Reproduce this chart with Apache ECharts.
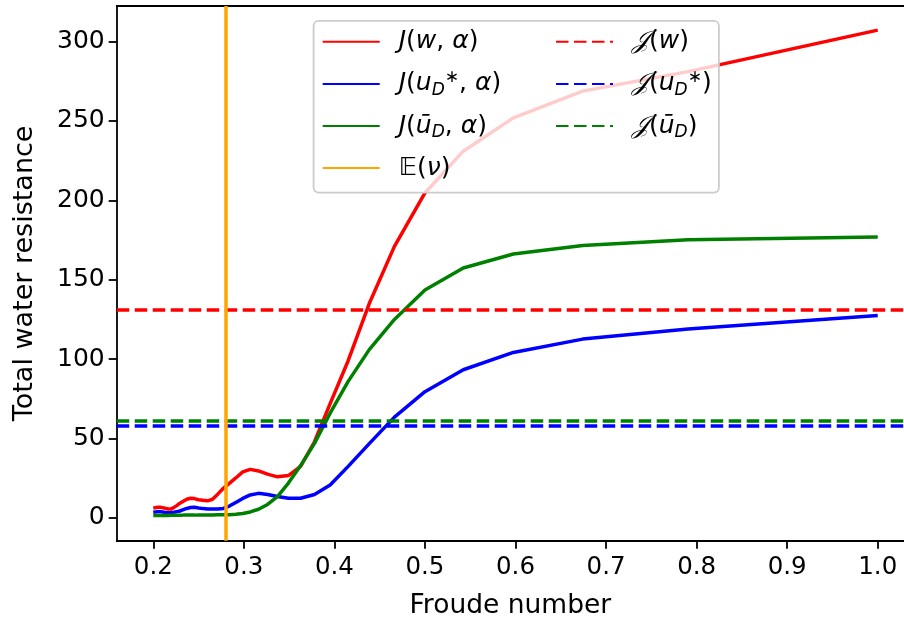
<!DOCTYPE html>
<html>
<head>
<meta charset="utf-8">
<script src="https://cdn.jsdelivr.net/npm/echarts@6/dist/echarts.min.js"></script>
<style>html,body{margin:0;padding:0;background:#fff}#c{width:904px;height:626px}</style>
</head>
<body>
<div id="c"></div>
<script>
// Froude numbers (x values)
const froude = [0.2000,0.2024,0.2050,0.2076,0.2104,0.2132,0.2162,0.2193,0.2225,0.2259,
  0.2294,0.2331,0.2370,0.2411,0.2454,0.2500,0.2548,0.2599,0.2654,0.2712,
  0.2774,0.2840,0.2911,0.2988,0.3071,0.3162,0.3262,0.3371,0.3492,0.3627,
  0.3780,0.3953,0.4152,0.4385,0.4663,0.5000,0.5423,0.5976,0.6742,0.7906,1.0000];
// J(w, alpha)
const jW = [6.2,6.5,6.7,6.7,6.5,6.1,5.7,5.6,6.5,7.8,
  9.3,10.5,11.8,12.4,12.2,11.5,11.1,10.8,11.8,15.0,
  18.7,21.8,25.2,29.0,30.6,29.6,27.6,25.9,26.7,32.5,
  48,72,99,135,171,204.6,230.9,251.9,268.7,281,307.1];
// J(u_D^*, alpha)
const jUstar = [3.6,3.8,4.0,4.0,3.8,3.5,3.3,3.3,3.6,4.0,
  4.4,5.2,6.0,6.6,6.7,6.3,5.9,5.7,5.6,5.6,
  6.0,7.5,9.8,12.3,14.5,15.5,14.8,13.5,12.4,12.4,
  14.8,20.8,32.5,46.8,63.5,79.5,93.3,104.2,112.6,118.9,127.5];
// J(u_D bar, alpha)
const jUbar = [1.5,1.5,1.5,1.6,1.6,1.6,1.6,1.7,1.7,1.7,
  1.7,1.8,1.8,1.8,1.8,1.9,1.9,1.9,1.9,2.0,
  2.0,2.1,2.3,2.8,3.8,5.5,8.5,13.5,22,33,
  47,66,86,106,125,143.5,157.4,166.2,171.6,175.2,176.9];
// horizontal reference levels and expected Froude number
const levelJw = 131.1;
const levelJustar = 57.8;
const levelJubar = 61.2;
const expectedNu = 0.2774;
// ticks
const xTicks = [0.2,0.3,0.4,0.5,0.6,0.7,0.8,0.9,1.0];
const yTicks = [0,50,100,150,200,250,300];

const RED='#ff0000', BLUE='#0000ff', GREEN='#008000', ORANGE='#ffa500';
const LW = 3.5;
const DASH = [12.5, 5.5];
const FONT = "'DejaVu Sans', 'DejaVu Serif', 'Noto Sans', sans-serif";
const X_MIN = 0.1596, X_MAX = 1.0290;

function pairs(ys){ return froude.map((x,i)=>[x, ys[i]]); }

const labels = {
  Jw:    '{sp| }{i|J}{n|(}{i|w}{n|, }{i|α}{n|)}',
  Ju:    '{sp| }{i|J}{n|(}{i|u}{sub|D}{sup|∗}{n|, }{i|α}{n|)}',
  Jb:    '{sp| }{i|J}{n|(}{i|ū}{sub|D}{n|, }{i|α}{n|)}',
  E:     '{sp| }{n|𝔼(}{i|ν}{n|)}',
  JJw:   '{sp| }{cal|𝒥}{n|(}{i|w}{n|)}',
  JJu:   '{sp| }{cal|𝒥}{n|(}{i|u}{sub|D}{sup|∗}{n|)}',
  JJb:   '{sp| }{cal|𝒥}{n|(}{i|ū}{sub|D}{n|)}'
};
const rich = {
  sp:  {width: 14, fontSize: 25, lineHeight: 30},
  n:   {fontSize: 25, fontFamily: FONT, color:'#000', lineHeight: 30},
  i:   {fontSize: 25, fontFamily: FONT, fontStyle:'italic', color:'#000', lineHeight: 30},
  cal: {fontSize: 25, fontFamily: "'DejaVu Serif', 'DejaVu Sans', serif", fontStyle:'italic', color:'#000', lineHeight: 30},
  sub: {fontSize: 17, fontFamily: FONT, fontStyle:'italic', color:'#000', lineHeight: 14, verticalAlign:'bottom'},
  sup: {fontSize: 17, fontFamily: FONT, color:'#000', lineHeight: 14, verticalAlign:'top'}
};

function curve(name, ys, color){
  return {name, type:'line', data: pairs(ys), symbol:'none', smooth:false,
    lineStyle:{color, width:LW}, itemStyle:{color}, z:3, silent:true};
}
function hline(name, val, color){
  return {name, type:'line', data: [], symbol:'none',
    lineStyle:{color, width:LW, type:DASH}, itemStyle:{color}, z:2,
    markLine:{silent:true, symbol:['none','none'], label:{show:false}, animation:false,
      lineStyle:{color, width:LW, type:DASH}, emphasis:{disabled:true},
      data:[{yAxis: val}]}};
}

const chart = echarts.init(document.getElementById('c'), null, {renderer:'canvas'});
const legendCommon = {orient:'vertical', itemWidth:57, itemHeight:14, itemGap:14.6, padding:0, z:20,
  selectedMode:false,
  itemStyle:{color:'rgba(0,0,0,0)', borderWidth:0, opacity:0},
  textStyle:{fontSize:25, color:'#000', fontFamily: FONT, rich},
  formatter: name => labels[name]};
chart.setOption({
  animation:false,
  backgroundColor:'#fff',
  grid:{left:116.7, right:0, top:6, bottom:85.3, show:false},
  xAxis:[{type:'value', min:X_MIN, max:X_MAX,
    splitLine:{show:false},
    axisLine:{show:true, onZero:false, lineStyle:{color:'#000', width:1.8}},
    axisTick:{show:true, inside:false, length:8, customValues:xTicks, lineStyle:{color:'#000', width:1.8}},
    axisLabel:{customValues:xTicks, formatter:v=>Number(v).toFixed(1), fontSize:24.5, color:'#000', margin:14, fontFamily:FONT},
    name:'Froude number', nameLocation:'middle', nameGap:52,
    nameTextStyle:{fontSize:26.5, color:'#000', fontFamily:FONT}},
   {type:'value', position:'top', min:X_MIN, max:X_MAX,
    splitLine:{show:false},
    axisLine:{show:true, onZero:false, lineStyle:{color:'#000', width:1.8}},
    axisTick:{show:false}, axisLabel:{show:false}}],
  yAxis:{type:'value', min:-14.3, max:322.3,
    splitLine:{show:false},
    axisLine:{show:true, onZero:false, lineStyle:{color:'#000', width:1.8}},
    axisTick:{show:true, inside:false, length:8, customValues:yTicks, lineStyle:{color:'#000', width:1.8}},
    axisLabel:{customValues:yTicks, fontSize:25, color:'#000', margin:12, fontFamily:FONT},
    name:'Total water resistance', nameLocation:'middle', nameGap:78,
    nameTextStyle:{fontSize:27, color:'#000', fontFamily:FONT}},
  graphic:[{type:'rect', left:312.7, top:20, z:10,
    shape:{width:405.3, height:171.7, r:5},
    style:{fill:'rgba(255,255,255,0.8)', stroke:'#cccccc', lineWidth:1.8}}],
  legend:[
    Object.assign({}, legendCommon, {left:321.7, top:29.3, data:['Jw','Ju','Jb','E']}),
    Object.assign({}, legendCommon, {left:555, top:29.3, data:['JJw','JJu','JJb']})
  ],
  series:[
    hline('JJw', levelJw, RED),
    hline('JJu', levelJustar, BLUE),
    hline('JJb', levelJubar, GREEN),
    curve('Jw', jW, RED),
    curve('Ju', jUstar, BLUE),
    curve('Jb', jUbar, GREEN),
    {name:'E', type:'line', data:[], symbol:'none', lineStyle:{color:ORANGE, width:LW}, itemStyle:{color:ORANGE}, z:4,
      markLine:{silent:true, symbol:['none','none'], label:{show:false}, animation:false,
        lineStyle:{color:ORANGE, width:LW, type:'solid'}, emphasis:{disabled:true},
        data:[{xAxis: expectedNu}]}}
  ]
});
</script>
</body>
</html>
